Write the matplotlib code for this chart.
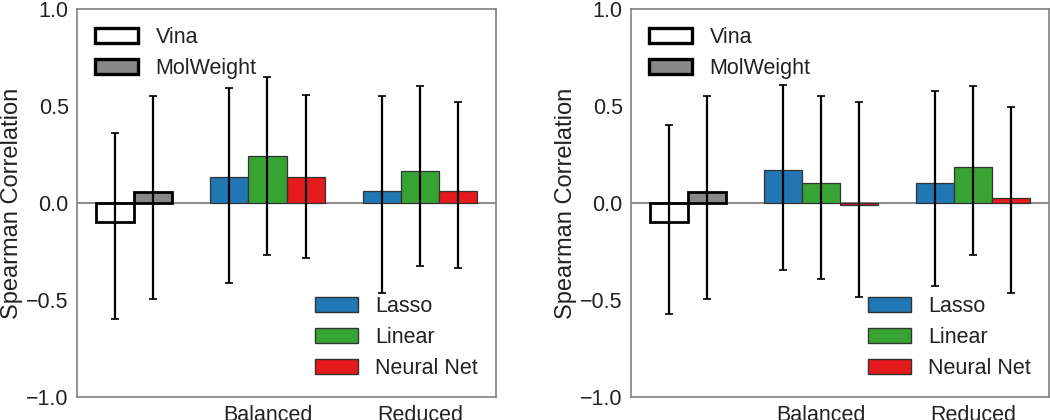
import matplotlib
matplotlib.use('Agg')
import matplotlib.pyplot as plt
from matplotlib.patches import Patch

plt.rcParams['font.family'] = ['Liberation Sans', 'DejaVu Sans']

# ---------------- data ----------------
groups = ['Balanced', 'Reduced']
models = ['Lasso', 'Linear', 'Neural Net']
model_colors = ['#2077b4', '#37a333', '#e41a1c']
baselines = ['Vina', 'MolWeight']
baseline_faces = ['white', '#888888']

# left panel
left_base_mean = [-0.100, 0.057]
left_base_low = [-0.600, -0.497]
left_base_high = [0.359, 0.553]
left_bal_mean = [0.136, 0.242, 0.136]
left_bal_low = [-0.411, -0.266, -0.285]
left_bal_high = [0.593, 0.647, 0.557]
left_red_mean = [0.060, 0.165, 0.060]
left_red_low = [-0.466, -0.327, -0.335]
left_red_high = [0.553, 0.603, 0.519]

# right panel
right_base_mean = [-0.100, 0.057]
right_base_low = [-0.572, -0.497]
right_base_high = [0.404, 0.553]
right_bal_mean = [0.170, 0.101, -0.012]
right_bal_low = [-0.345, -0.390, -0.487]
right_bal_high = [0.608, 0.553, 0.519]
right_red_mean = [0.101, 0.187, 0.026]
right_red_low = [-0.426, -0.266, -0.466]
right_red_high = [0.575, 0.603, 0.493]

yticks = [-1.0, -0.5, 0.0, 0.5, 1.0]

TEXT = '#222222'
FS = 15.5
W = 0.25

fig = plt.figure(figsize=(10.5, 4.2), dpi=100)
ax1 = fig.add_axes([77 / 1050, 23 / 420, 419 / 1050, 388 / 420])
ax2 = fig.add_axes([631 / 1050, 23 / 420, 418 / 1050, 388 / 420])


def err(ax, x, m, lo, hi):
    ax.errorbar([x], [m], yerr=[[m - lo], [hi - m]], fmt='none', ecolor='black',
                elinewidth=1.6, capsize=3, capthick=1.2, zorder=5)


def draw(ax, bmean, blow, bhigh, panels):
    ax.axhline(0, color='#808080', lw=1.3, zorder=1)
    for i in range(len(baselines)):
        x = i * W
        ax.bar(x, bmean[i], width=W, color=baseline_faces[i], edgecolor='black',
               linewidth=2.0, zorder=3)
        err(ax, x, bmean[i], blow[i], bhigh[i])
    for gi, (mean, low, high) in enumerate(panels):
        for mi in range(len(models)):
            x = (gi + 1) + (mi - 1) * W
            ax.bar(x, mean[mi], width=W, color=model_colors[mi], edgecolor='#333333',
                   linewidth=0.9, zorder=3)
            err(ax, x, mean[mi], low[mi], high[mi])
    ax.set_xlim(-0.25, 2.5)
    ax.set_ylim(-1.0, 1.0)
    ax.set_yticks(yticks)
    ax.set_yticklabels(['\u22121.0', '\u22120.5', '0.0', '0.5', '1.0'])
    ax.set_xticks([1, 2])
    ax.set_xticklabels(groups)
    ax.tick_params(length=0, labelsize=FS, colors=TEXT, pad=6)
    for s in ax.spines.values():
        s.set_color('#808080')
        s.set_linewidth(1.2)
    ax.set_ylabel('Spearman Correlation', fontsize=17, color=TEXT)
    ax.yaxis.set_label_coords(-0.129, 0.5)

    h1 = [Patch(facecolor=baseline_faces[i], edgecolor='black', linewidth=2.4)
          for i in range(len(baselines))]
    leg1 = ax.legend(h1, baselines, loc='upper left', frameon=False, fontsize=FS,
                     handlelength=2.0, handleheight=0.7, labelspacing=0.45,
                     handletextpad=0.8, labelcolor=TEXT, borderaxespad=0.45)
    ax.add_artist(leg1)
    h2 = [Patch(facecolor=model_colors[i], edgecolor='#333333', linewidth=1.0)
          for i in range(len(models))]
    ax.legend(h2, models, loc='lower right', frameon=False, fontsize=FS,
              handlelength=2.0, handleheight=0.7, labelspacing=0.45,
              handletextpad=0.8, labelcolor=TEXT, borderaxespad=0.45)


draw(ax1, left_base_mean, left_base_low, left_base_high,
     [(left_bal_mean, left_bal_low, left_bal_high),
      (left_red_mean, left_red_low, left_red_high)])
draw(ax2, right_base_mean, right_base_low, right_base_high,
     [(right_bal_mean, right_bal_low, right_bal_high),
      (right_red_mean, right_red_low, right_red_high)])

fig.savefig('out.png', dpi=100)
